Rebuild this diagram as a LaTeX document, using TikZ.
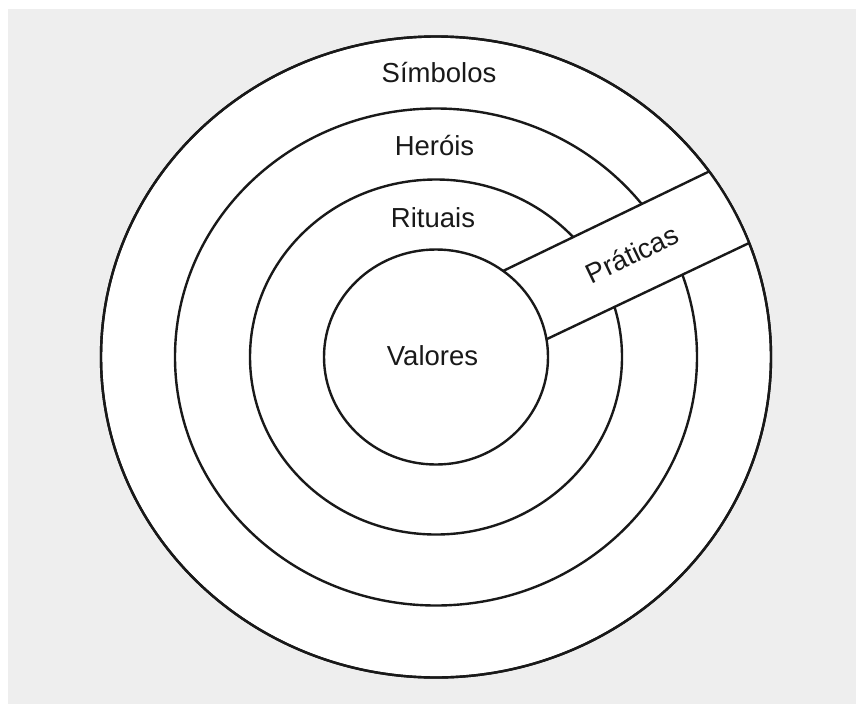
\documentclass[tikz,border=0pt]{standalone}
\usepackage{fontspec}
\setmainfont{Liberation Sans}
\usetikzlibrary{calc}
\definecolor{bggray}{HTML}{EEEEEE}
\begin{document}
\begin{tikzpicture}[x=1pt,y=-1pt,
  ring/.style={draw=black!90, line width=2.4pt},
  lbl/.style={font=\fontsize{27.5}{33}\selectfont, text=black!90, inner sep=0pt, anchor=base}]
\useasboundingbox (0,0) rectangle (856,704);
\fill[white] (0,0) rectangle (856,704);
\fill[bggray] (8,9) rectangle (856,704);
\coordinate (c) at (436,357);
% rings
\draw[ring, fill=white] (c) ellipse [x radius=335pt, y radius=320.5pt];
\draw[ring] (c) ellipse [x radius=261pt, y radius=248.5pt];
\draw[ring] (c) ellipse [x radius=186pt, y radius=177.5pt];
% band
\coordinate (u1) at (503,271);
\coordinate (u2) at (708,172);
\coordinate (l1) at (547,339);
\coordinate (l2) at (747,244);
\begin{scope}
  \clip (c) ellipse [x radius=335pt, y radius=320.5pt];
  \fill[white] ($(u1)!-0.2!(u2)$) -- ($(u1)!2!(u2)$) -- ($(l1)!2!(l2)$) -- ($(l1)!-0.2!(l2)$) -- cycle;
  \draw[ring] ($(u1)!-0.2!(u2)$) -- ($(u1)!2!(u2)$);
  \draw[ring] ($(l1)!-0.2!(l2)$) -- ($(l1)!2!(l2)$);
\end{scope}
\draw[ring, fill=white] (c) ellipse [x radius=112pt, y radius=107.5pt];
\draw[ring] (c) ellipse [x radius=335pt, y radius=320.5pt];
% labels
\node[lbl] (simbolos) at (439,82) {Símbolos};
\node[lbl] (herois) at (434.5,155) {Heróis};
\node[lbl] (rituais) at (433,227) {Rituais};
\node[lbl] (valores) at (432.5,365) {Valores};
\node[lbl, anchor=center, rotate=25.6] (praticas) at (632,254) {Práticas};
\end{tikzpicture}
\end{document}
